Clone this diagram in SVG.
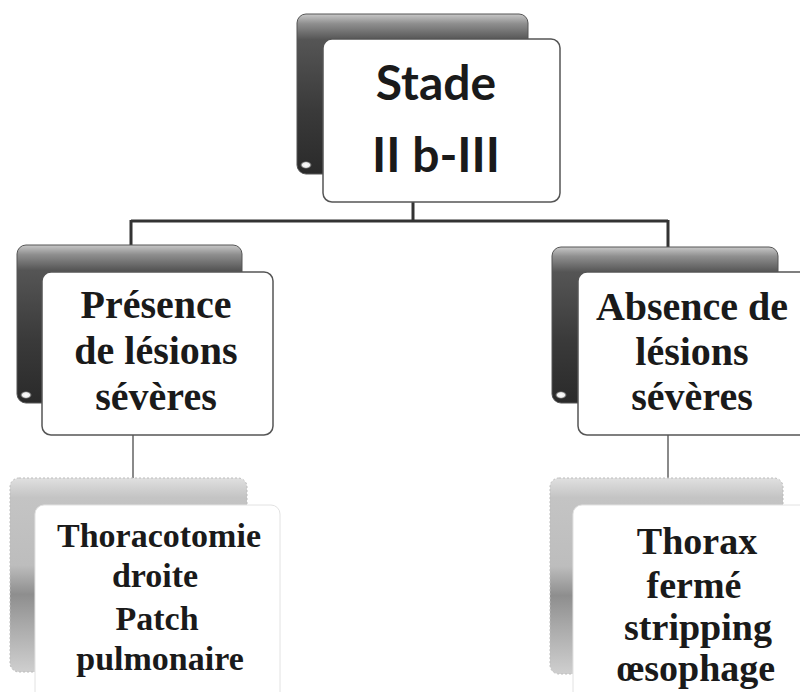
<svg xmlns="http://www.w3.org/2000/svg" width="800" height="692" viewBox="0 0 800 692">
  <defs>
    <linearGradient id="gDark" x1="0" y1="0" x2="0" y2="1">
      <stop offset="0" stop-color="#c8c8c8"/>
      <stop offset="0.06" stop-color="#8f8f8f"/>
      <stop offset="0.16" stop-color="#555"/>
      <stop offset="0.6" stop-color="#3a3a3a"/>
      <stop offset="1" stop-color="#2a2a2a"/>
    </linearGradient>
    <linearGradient id="gLight" x1="0" y1="0" x2="0" y2="1">
      <stop offset="0" stop-color="#e0e0e0"/>
      <stop offset="0.1" stop-color="#c4c4c4"/>
      <stop offset="0.45" stop-color="#bdbdbd"/>
      <stop offset="0.6" stop-color="#8e8e8e"/>
      <stop offset="0.75" stop-color="#a8a8a8"/>
      <stop offset="1" stop-color="#cfcfcf"/>
    </linearGradient>
    <radialGradient id="gHi" cx="0.5" cy="0.5" r="0.5">
      <stop offset="0" stop-color="#fff"/>
      <stop offset="0.6" stop-color="#eee"/>
      <stop offset="1" stop-color="#888" stop-opacity="0"/>
    </radialGradient>
  </defs>
  <style>
    .backD { fill: url(#gDark); stroke: #555; stroke-width: 1; }
    .backL { fill: url(#gLight); stroke: #bbb; stroke-width: 1; stroke-dasharray: 2 2; }
    .front { fill: #ffffff; stroke: #555; stroke-width: 1.5; }
    .frontL { fill: #ffffff; stroke: #e2e2e2; stroke-width: 1; }
    .conn { stroke: #333; stroke-width: 3; fill: none; }
    .connL { stroke: #8a8a8a; stroke-width: 2; fill: none; }
    .tsans { font-family: Lato, "Open Sans", "DejaVu Sans", sans-serif; font-weight: bold; font-size: 48px; fill: #1a1a1a; text-anchor: middle; }
    .tser { font-family: "Liberation Serif", "DejaVu Serif", serif; font-weight: bold; font-size: 40px; fill: #1a1a1a; text-anchor: middle; }
    .tserS { font-family: "Liberation Serif", "DejaVu Serif", serif; font-weight: bold; font-size: 34px; fill: #1a1a1a; text-anchor: middle; }
    .tserM { font-family: "Liberation Serif", "DejaVu Serif", serif; font-weight: bold; font-size: 38px; fill: #1a1a1a; text-anchor: middle; }
  </style>
  <rect width="800" height="692" fill="#ffffff"/>

  <g id="connectors">
    <path class="conn" d="M413 202 V221 M131 221 H668 M131 220 V246 M668 220 V248"/>
    <path class="connL" d="M133 435 V479 M668 435 V479"/>
  </g>

  <g id="node-stade">
    <rect class="backD" x="297" y="14" width="231" height="160" rx="9"/>
    <ellipse cx="306" cy="165" rx="6" ry="4" fill="url(#gHi)"/>
    <rect class="front" x="323" y="39" width="237" height="163" rx="9"/>
    <text class="tsans" x="436" y="100">Stade</text>
    <text class="tsans" x="436" y="172">II b-III</text>
  </g>

  <g id="node-presence">
    <rect class="backD" x="17" y="245" width="225" height="158" rx="9"/>
    <ellipse cx="26" cy="395" rx="6" ry="4" fill="url(#gHi)"/>
    <rect class="front" x="42" y="272" width="231" height="163" rx="9"/>
    <text class="tser" x="156" y="318">Présence</text>
    <text class="tser" x="156" y="364">de lésions</text>
    <text class="tser" x="156" y="410">sévères</text>
  </g>

  <g id="node-absence">
    <rect class="backD" x="552" y="247" width="226" height="156" rx="9"/>
    <ellipse cx="561" cy="395" rx="6" ry="4" fill="url(#gHi)"/>
    <rect class="front" x="578" y="272" width="232" height="163" rx="9"/>
    <text class="tser" x="692" y="320">Absence de</text>
    <text class="tser" x="692" y="365">lésions</text>
    <text class="tser" x="692" y="410">sévères</text>
  </g>

  <g id="node-thoracotomie">
    <rect class="backL" x="10" y="478" width="237" height="194" rx="9"/>
    <rect class="frontL" x="35" y="505" width="245" height="200" rx="9"/>
    <text class="tserS" x="159" y="547">Thoracotomie</text>
    <text class="tserS" x="155" y="587">droite</text>
    <text class="tserS" x="157" y="630" font-size="36">Patch</text>
    <text class="tserS" x="160" y="670">pulmonaire</text>
  </g>

  <g id="node-thorax">
    <rect class="backL" x="550" y="478" width="233" height="196" rx="9"/>
    <rect class="frontL" x="573" y="505" width="245" height="200" rx="9"/>
    <text class="tserM" x="697" y="554">Thorax</text>
    <text class="tserM" x="694" y="598">fermé</text>
    <text class="tserM" x="698" y="640">stripping</text>
    <text class="tserM" x="696" y="681">œsophage</text>
  </g>
</svg>
